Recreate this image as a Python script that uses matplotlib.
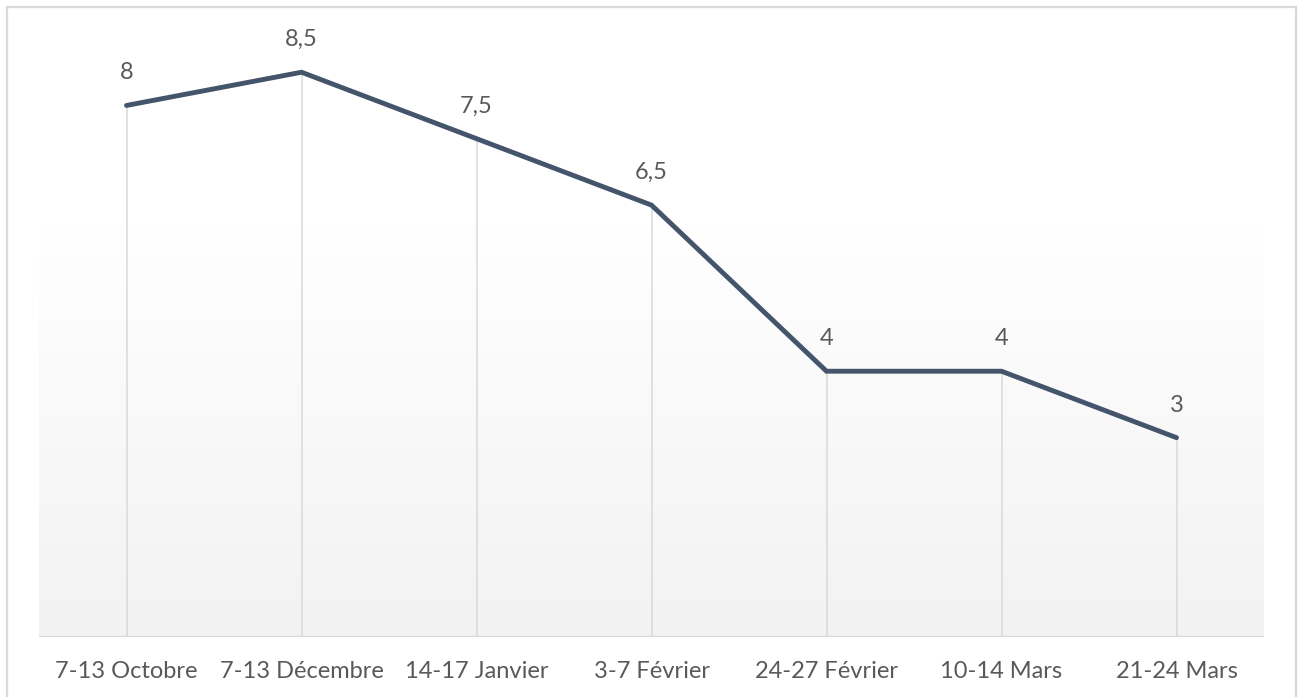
import matplotlib.pyplot as plt
import numpy as np
from matplotlib.colors import LinearSegmentedColormap
from matplotlib.patches import Rectangle

categories = [
    "7-13 Octobre",
    "7-13 Décembre",
    "14-17 Janvier",
    "3-7 Février",
    "24-27 Février",
    "10-14 Mars",
    "21-24 Mars",
]
values = [8, 8.5, 7.5, 6.5, 4, 4, 3]
value_labels = ["8", "8,5", "7,5", "6,5", "4", "4", "3"]

W, H = 1299, 697
LINE_COLOR = "#44546a"
GRID_COLOR = "#d9d9d9"
TEXT_COLOR = "#595959"

plt.rcParams["font.family"] = ["Lato", "DejaVu Sans"]

fig = plt.figure(figsize=(W / 100, H / 100), dpi=100)
fig.patch.set_facecolor("white")

# plot area in pixels: x 39..1264, y baseline 637, top 39 (ymax 9)
ax = fig.add_axes([39 / W, (H - 637) / H, (1264 - 39) / W, (637 - 39) / H])
ax.set_xlim(-0.5, len(categories) - 0.5)
ax.set_ylim(0, 9)
ax.set_facecolor("none")

# soft vertical gradient near the bottom of the plot area
grad = np.linspace(0, 1, 256).reshape(-1, 1)
cmap = LinearSegmentedColormap.from_list("g", ["#f2f2f2", "#ffffff"])
ax.imshow(grad, aspect="auto", cmap=cmap, origin="lower",
          extent=(-0.5, len(categories) - 0.5, 0, 6.2), zorder=0)

x = np.arange(len(categories))
ax.vlines(x, 0, values, color=GRID_COLOR, linewidth=1.1, zorder=1)
ax.axhline(0, color=GRID_COLOR, linewidth=1.6, zorder=2)
ax.plot(x, values, color=LINE_COLOR, linewidth=3.5, solid_joinstyle="miter",
        solid_capstyle="round", zorder=3)

for xi, v, lab in zip(x, values, value_labels):
    ax.annotate(lab, (xi, v), xytext=(0, 22), textcoords="offset pixels",
                ha="center", va="bottom", fontsize=17, color=TEXT_COLOR)

for side in ax.spines.values():
    side.set_visible(False)
ax.set_yticks([])
ax.set_xticks(x)
ax.set_xticklabels(categories, fontsize=17, color=TEXT_COLOR)
ax.tick_params(axis="x", length=0, pad=17)

fig.patches.append(Rectangle((7 / W, -0.05), (1296 - 7) / W, 1.05 - 7 / H,
                             transform=fig.transFigure, fill=False,
                             edgecolor="#d9d9d9", linewidth=1.6))

fig.savefig("out.png", dpi=100)
